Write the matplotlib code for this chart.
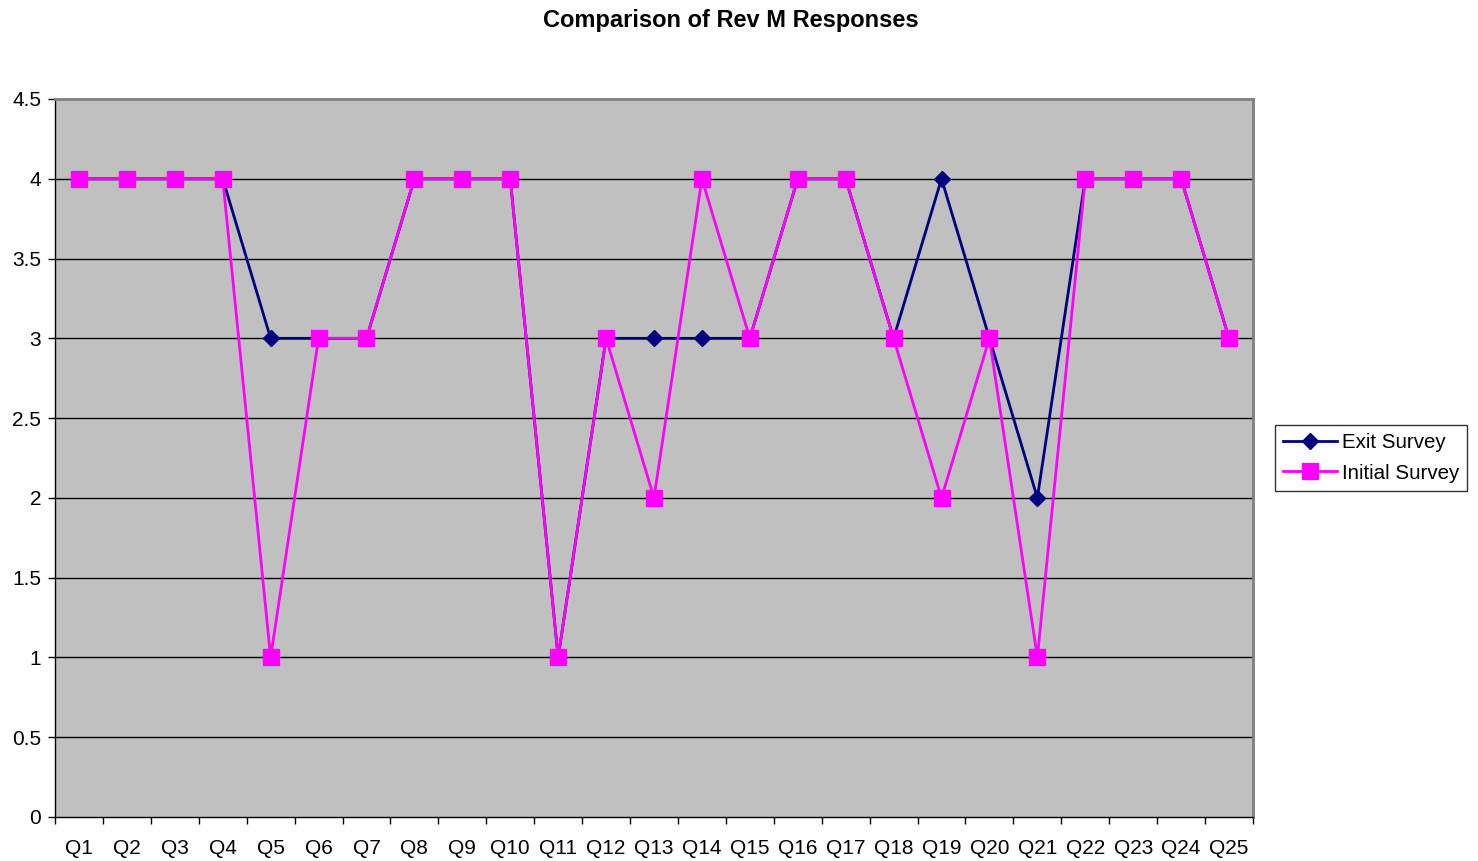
import matplotlib
matplotlib.use("Agg")
import matplotlib.pyplot as plt
import numpy as np

plt.rcParams['font.family'] = ['Liberation Sans', 'DejaVu Sans']

questions = [f"Q{i}" for i in range(1, 26)]
exit_survey = [4, 4, 4, 4, 3, 3, 3, 4, 4, 4, 1, 3, 3, 3, 3, 4, 4, 3, 4, 3, 2, 4, 4, 4, 3]
initial_survey = [4, 4, 4, 4, 1, 3, 3, 4, 4, 4, 1, 3, 2, 4, 3, 4, 4, 3, 2, 3, 1, 4, 4, 4, 3]
y_ticks = [0, 0.5, 1, 1.5, 2, 2.5, 3, 3.5, 4, 4.5]

W, H = 1478, 861
fig = plt.figure(figsize=(W / 100, H / 100), dpi=100)
ax = fig.add_axes([55 / W, (H - 817) / H, (1253 - 55) / W, (817 - 99) / H])
ax.set_facecolor('#C0C0C0')

x = np.arange(1, len(questions) + 1)
ax.plot(x, exit_survey, color='#000080', lw=2, marker='D', ms=8.5,
        mfc='#000080', mec='#000080', label='Exit Survey', zorder=3)
ax.plot(x, initial_survey, color='#FF00FF', lw=2, marker='s', ms=11,
        mfc='#FF00FF', mec='#FF00FF', label='Initial Survey', zorder=4)

ax.set_xlim(0.5, len(questions) + 0.5)
ax.set_ylim(0, 4.5)
ax.set_yticks(y_ticks)
ax.set_yticklabels([f"{v:g}" for v in y_ticks])
ax.set_xticks(x)
ax.set_xticklabels(questions)
ax.set_xticks(np.arange(0.5, len(questions) + 1), minor=True)
ax.tick_params(axis='x', which='major', length=0, pad=16, labelsize=15)
ax.tick_params(axis='x', which='minor', length=5, width=1, direction='out')
ax.tick_params(axis='y', which='major', length=5, width=1, direction='out', labelsize=15, pad=5)

for v in y_ticks[1:-1]:
    ax.axhline(v, color='#000000', lw=1, zorder=1)

for side in ['top', 'right']:
    ax.spines[side].set_color('#808080')
    ax.spines[side].set_linewidth(2)
for side in ['left', 'bottom']:
    ax.spines[side].set_color('#000000')
    ax.spines[side].set_linewidth(1)

fig.text(731 / W, 1 - 20 / H, 'Comparison of Rev M Responses', ha='center', va='center',
         fontsize=17, fontweight='bold')

leg = ax.legend(loc='center left', bbox_to_anchor=(1275 / W, 1 - 458 / H),
                bbox_transform=fig.transFigure, frameon=True, fancybox=False,
                fontsize=14.8, handlelength=2.6, borderpad=0.4, labelspacing=0.55,
                handletextpad=0.25, borderaxespad=0)
leg.get_frame().set_edgecolor('#000000')
leg.get_frame().set_linewidth(1)

fig.savefig('out.png', dpi=100)
